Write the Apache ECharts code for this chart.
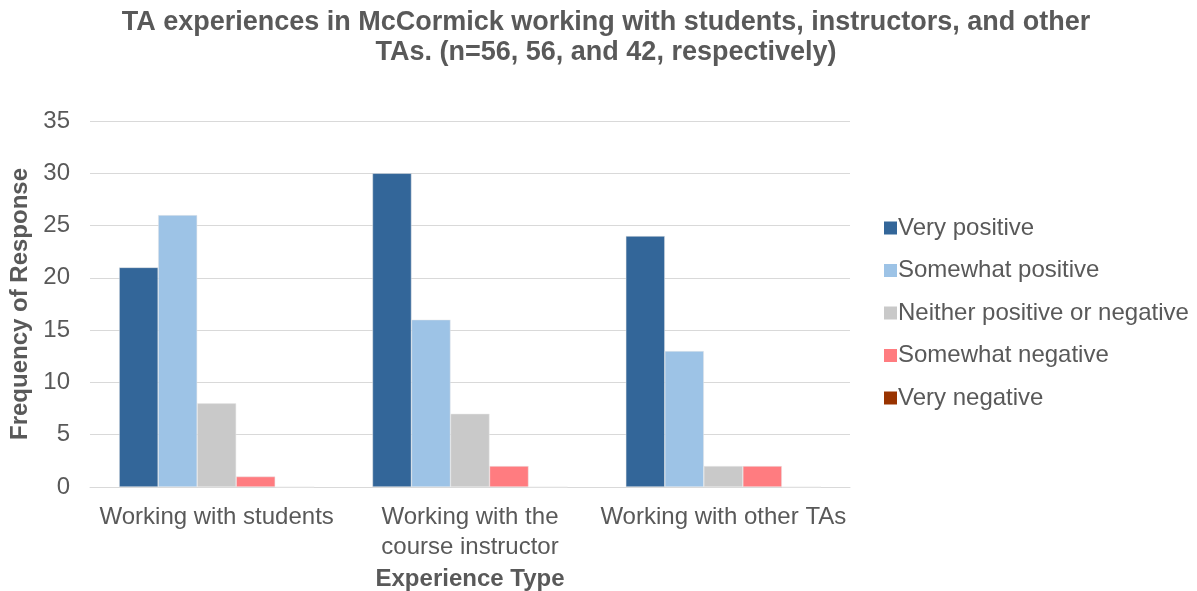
<!DOCTYPE html>
<html>
<head>
<meta charset="utf-8">
<script src="https://cdn.jsdelivr.net/npm/echarts@6/dist/echarts.min.js"></script>
<style>
  html, body { margin: 0; padding: 0; background: #ffffff; }
  #chart { width: 1197px; height: 591px; }
</style>
</head>
<body>
<div id="chart"></div>
<script>
const categories = ['Working with students', 'Working with the\ncourse instructor', 'Working with other TAs'];
const seriesNames = ['Very positive', 'Somewhat positive', 'Neither positive or negative', 'Somewhat negative', 'Very negative'];
const veryPositive = [21, 30, 24];
const somewhatPositive = [26, 16, 13];
const neither = [8, 7, 2];
const somewhatNegative = [1, 2, 2];
const veryNegative = [0, 0, 0];
const colors = ['#336699', '#9dc3e6', '#c9c9c9', '#ff7c80', '#993300'];

const values = [veryPositive, somewhatPositive, neither, somewhatNegative, veryNegative];
const textColor = '#595959';
const font = 'Liberation Sans, Arial, sans-serif';

const chart = echarts.init(document.getElementById('chart'));
chart.setOption({
  animation: false,
  textStyle: { fontFamily: font },
  title: {
    text: 'TA experiences in McCormick working with students, instructors, and other\nTAs. (n=56, 56, and 42, respectively)',
    left: 601,
    top: 3,
    textAlign: 'center',
    textStyle: { fontSize: 27, fontWeight: 'bold', color: textColor, lineHeight: 30, fontFamily: font }
  },
  legend: {
    orient: 'vertical',
    left: 879,
    top: 211,
    itemWidth: 13,
    itemHeight: 13,
    itemGap: 18.5,
    icon: 'rect',
    itemStyle: { borderWidth: 0 },
    textStyle: { fontSize: 24, lineHeight: 24, color: textColor, fontFamily: font, padding: [0, 0, 0, -4] },
    data: seriesNames
  },
  grid: { left: 90, right: 347, top: 121, bottom: 104, outerBoundsMode: 'none' },
  xAxis: {
    type: 'category',
    data: categories,
    name: 'Experience Type',
    nameLocation: 'middle',
    nameGap: 79,
    nameTextStyle: { fontSize: 24, fontWeight: 'bold', color: textColor, fontFamily: font },
    axisLine: { lineStyle: { color: '#d9d9d9', width: 1 } },
    axisTick: { show: false },
    axisLabel: { fontSize: 24, color: textColor, lineHeight: 30, margin: 15, fontFamily: font, interval: 0 }
  },
  yAxis: {
    type: 'value',
    min: 0,
    max: 35,
    interval: 5,
    name: 'Frequency of Response',
    nameLocation: 'middle',
    nameGap: 56,
    nameTextStyle: { fontSize: 24, fontWeight: 'bold', color: textColor, fontFamily: font },
    axisLine: { show: false },
    axisTick: { show: false },
    axisLabel: { fontSize: 24, color: textColor, margin: 20, fontFamily: font },
    splitLine: { lineStyle: { color: '#d9d9d9', width: 1 } }
  },
  series: seriesNames.map((name, i) => ({
    name: name,
    type: 'bar',
    data: values[i],
    barGap: '0%',
    barCategoryGap: '23%',
    itemStyle: { color: colors[i], borderColor: '#e8e8e8', borderWidth: 0.5 }
  }))
});
</script>
</body>
</html>
